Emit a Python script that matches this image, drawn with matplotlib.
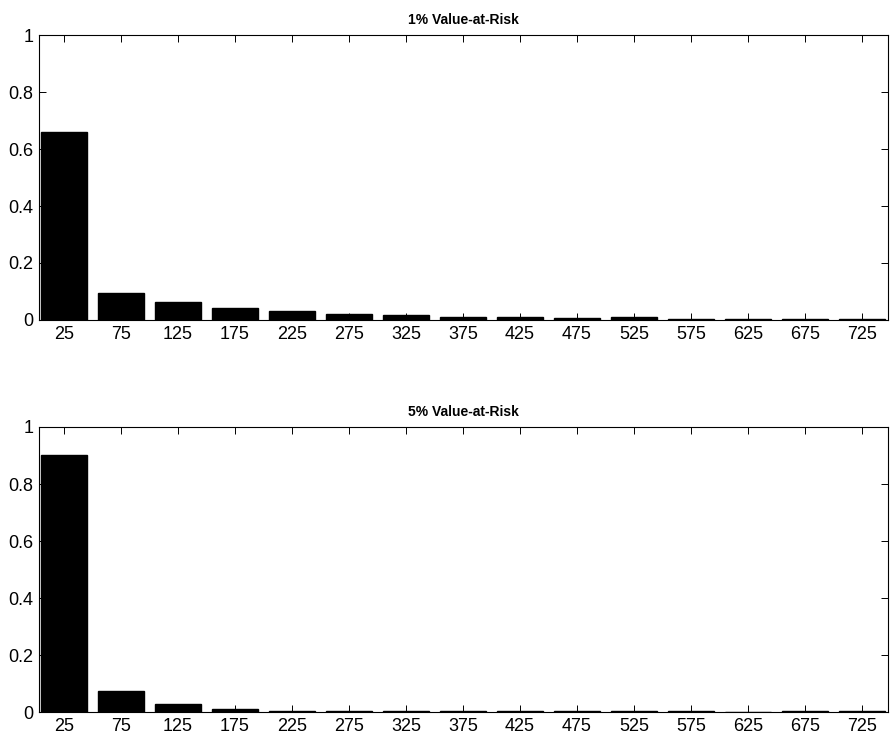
import matplotlib
matplotlib.use("Agg")
import matplotlib.pyplot as plt
import numpy as np

plt.rcParams['font.family'] = ['Liberation Sans', 'DejaVu Sans']

categories = [25, 75, 125, 175, 225, 275, 325, 375, 425, 475, 525, 575, 625, 675, 725]
var1_values = [0.66, 0.095, 0.063, 0.042, 0.032, 0.021, 0.016, 0.012, 0.011, 0.006, 0.009, 0.004, 0.002, 0.002, 0.003]
var5_values = [0.90, 0.074, 0.028, 0.010, 0.005, 0.004, 0.003, 0.003, 0.003, 0.002, 0.002, 0.003, 0.001, 0.002, 0.002]
titles = ["1% Value-at-Risk", "5% Value-at-Risk"]
yticks = [0, 0.2, 0.4, 0.6, 0.8, 1]
ytick_labels = ["0", "0.2", "0.4", "0.6", "0.8", "1"]

fig = plt.figure(figsize=(8.94, 7.39), dpi=100)
positions = [[0.0436, 0.567, 0.9497, 0.3856], [0.0436, 0.0365, 0.9497, 0.3857]]

for pos, vals, title in zip(positions, [var1_values, var5_values], titles):
    ax = fig.add_axes(pos)
    ax.bar(categories, vals, width=40, color='black', edgecolor='black')
    ax.set_xlim(3, 748)
    ax.set_ylim(0, 1)
    ax.set_xticks(categories)
    ax.set_xticklabels([str(c) for c in categories], fontsize=13)
    ax.set_yticks(yticks)
    ax.set_yticklabels(ytick_labels, fontsize=13)
    ax.tick_params(direction='in', top=True, right=True, length=5, width=0.7, pad=4)
    for s in ax.spines.values():
        s.set_linewidth(0.8)
    ax.set_title(title, fontsize=10, fontweight='bold', pad=8)

fig.savefig("out.png", dpi=100)
